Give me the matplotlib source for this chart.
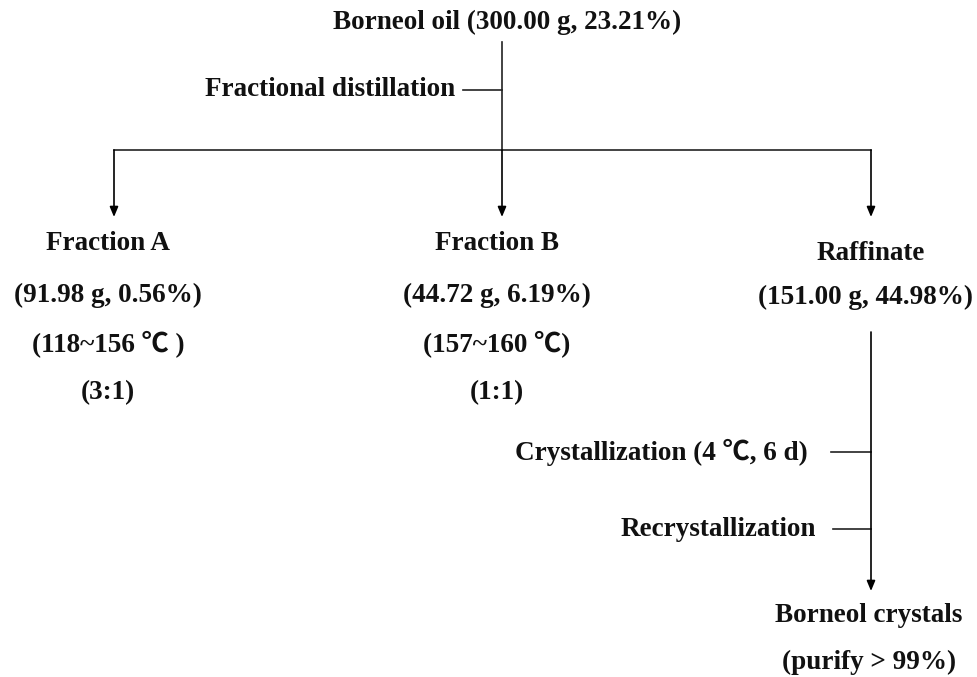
import matplotlib.pyplot as plt

# node texts
top_label = "Borneol oil (300.00 g, 23.21%)"
step_labels = ["Fractional distillation", "Crystallization (4 \u2103, 6 d)", "Recrystallization"]
frac_a = ["Fraction A", "(91.98 g, 0.56%)", "(118~156 \u2103 )", "(3:1)"]
frac_b = ["Fraction B", "(44.72 g, 6.19%)", "(157~160 \u2103)", "(1:1)"]
raffinate = ["Raffinate", "(151.00 g, 44.98%)"]
crystals = ["Borneol crystals", "(purify > 99%)"]

fig = plt.figure(figsize=(9.77, 6.77), dpi=100)
ax = fig.add_axes([0, 0, 1, 1])
ax.set_xlim(0, 977)
ax.set_ylim(677, 0)
ax.axis('off')

font = dict(family=['Liberation Serif', 'Noto Sans CJK SC'], fontweight='bold', fontsize=19.5, color='#111111')
lw = 1.2
col = '#222222'

def arrow(x, y0, y1):
    ax.annotate('', xy=(x, y1), xytext=(x, y0),
                arrowprops=dict(arrowstyle='-|>,head_length=0.6,head_width=0.25', color='black', lw=lw,
                                shrinkA=0, shrinkB=0))

# top
ax.text(507, 22, top_label, ha='center', va='center', **font)
ax.plot([502, 502], [42, 150], color=col, lw=lw)
ax.text(455, 90, step_labels[0], ha='right', va='center', **font)
ax.plot([463, 502], [90, 90], color=col, lw=lw)

# branch
ax.plot([114, 871], [150, 150], color=col, lw=lw)
arrow(114, 150, 217)
arrow(502, 150, 217)
arrow(871, 150, 217)

ys = [243, 295, 345, 393]
for t, y in zip(frac_a, ys):
    ax.text(108, y, t, ha='center', va='center', **font)
for t, y in zip(frac_b, ys):
    ax.text(497, y, t, ha='center', va='center', **font)
ax.text(871, 253, raffinate[0], ha='center', va='center', **font)
ax.text(973, 297, raffinate[1], ha='right', va='center', **font)

# raffinate -> crystals
arrow(871, 332, 591)
ax.text(808, 452, step_labels[1], ha='right', va='center', **font)
ax.plot([831, 871], [452, 452], color=col, lw=lw)
ax.text(816, 529, step_labels[2], ha='right', va='center', **font)
ax.plot([833, 871], [529, 529], color=col, lw=lw)

for t, y in zip(crystals, [615, 662]):
    ax.text(869, y, t, ha='center', va='center', **font)

fig.savefig('out.png', dpi=100, facecolor='white')
